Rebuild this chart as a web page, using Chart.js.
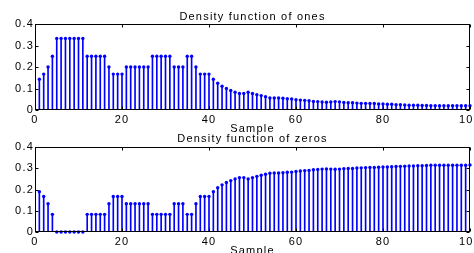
<!DOCTYPE html>
<html>
<head>
<meta charset="utf-8">
<script src="https://cdn.jsdelivr.net/npm/chart.js@4/dist/chart.umd.min.js"></script>
<style>
  html, body { margin: 0; padding: 0; background: #fff; overflow: hidden; width: 474px; height: 253px; }
  canvas { position: absolute; left: 0; }
  #c1 { top: 0; }
  #c2 { top: 126px; }
</style>
</head>
<body>
<canvas id="c1" width="490" height="140"></canvas>
<canvas id="c2" width="490" height="136"></canvas>
<script>
// ---- data ----
const samples = Array.from({ length: 100 }, (_, i) => i + 1);

const onesDensity = [
  0.143, 0.167, 0.2, 0.25,
  0.333, 0.333, 0.333, 0.333, 0.333, 0.333, 0.333,
  0.25, 0.25, 0.25, 0.25, 0.25,
  0.2,
  0.167, 0.167, 0.167,
  0.2, 0.2, 0.2, 0.2, 0.2, 0.2,
  0.25, 0.25, 0.25, 0.25, 0.25,
  0.2, 0.2, 0.2,
  0.25, 0.25,
  0.2,
  0.167, 0.167, 0.167,
  0.143, 0.125, 0.111, 0.1, 0.091, 0.083, 0.077, 0.077, 0.083, 0.077,
  0.071, 0.067, 0.062, 0.056, 0.056, 0.056, 0.055, 0.052, 0.051, 0.048,
  0.046, 0.045, 0.043, 0.040, 0.039, 0.037, 0.036, 0.037, 0.039, 0.038,
  0.035, 0.034, 0.034, 0.032, 0.031, 0.031, 0.030, 0.030, 0.028, 0.028,
  0.027, 0.027, 0.025, 0.025, 0.023, 0.022, 0.022, 0.022, 0.021, 0.021,
  0.020, 0.020, 0.020, 0.020, 0.020, 0.020, 0.020, 0.020, 0.020, 0.020
];

const zerosDensity = [
  0.19, 0.167, 0.133, 0.083,
  0, 0, 0, 0, 0, 0, 0,
  0.083, 0.083, 0.083, 0.083, 0.083,
  0.133,
  0.167, 0.167, 0.167,
  0.133, 0.133, 0.133, 0.133, 0.133, 0.133,
  0.083, 0.083, 0.083, 0.083, 0.083,
  0.133, 0.133, 0.133,
  0.083, 0.083,
  0.133,
  0.167, 0.167, 0.167,
  0.19, 0.208, 0.222, 0.233, 0.242, 0.25, 0.256, 0.256, 0.25, 0.256,
  0.262, 0.267, 0.272, 0.277, 0.278, 0.278, 0.279, 0.281, 0.282, 0.285,
  0.287, 0.289, 0.29, 0.293, 0.294, 0.296, 0.297, 0.296, 0.295, 0.296,
  0.298, 0.299, 0.299, 0.301, 0.302, 0.303, 0.304, 0.304, 0.305, 0.306,
  0.306, 0.307, 0.308, 0.309, 0.31, 0.311, 0.311, 0.312, 0.312, 0.313,
  0.314, 0.314, 0.314, 0.314, 0.314, 0.314, 0.314, 0.314, 0.314, 0.315
];

const xTickValues = [0, 20, 40, 60, 80, 100];
const xTickLabels = ['0', '20', '40', '60', '80', '100'];
const yTickValues = [0, 0.1, 0.2, 0.3, 0.4];
const yTickLabels = ['0', '0.1', '0.2', '0.3', '0.4'];
const titles = ['Density function of ones', 'Density function of zeros'];
const xAxisTitle = 'Sample';

// ---- styling ----
const FONT = { family: '"Liberation Sans", Arial, Helvetica, sans-serif', size: 11, weight: 'normal', lineHeight: 1.2 };
const STEM = '#0000ff';
Chart.defaults.color = '#000';
Chart.defaults.font = FONT;

const matlabBox = {
  id: 'matlabBox',
  beforeDraw(chart) { chart.ctx.letterSpacing = '1.2px'; },
  afterDraw(chart) {
    const { ctx, chartArea: a, scales: { x, y } } = chart;
    const L = Math.round(a.left) + 0.5, R = Math.round(a.right) - 0.5;
    const T = Math.round(a.top) + 0.5, B = Math.round(a.bottom) - 0.5;
    ctx.save();
    ctx.strokeStyle = '#000';
    ctx.lineWidth = 1;
    ctx.strokeRect(L, T, R - L, B - T);
    const len = 3;
    ctx.beginPath();
    xTickValues.forEach(v => {
      const px = Math.round(x.getPixelForValue(v)) + 0.5;
      ctx.moveTo(px, B); ctx.lineTo(px, B - len);
      ctx.moveTo(px, T); ctx.lineTo(px, T + len);
    });
    yTickValues.forEach(v => {
      const py = Math.round(y.getPixelForValue(v)) + 0.5;
      ctx.moveTo(L, py); ctx.lineTo(L + len, py);
      ctx.moveTo(R, py); ctx.lineTo(R - len, py);
    });
    ctx.stroke();
    ctx.restore();
  }
};

function makeStemChart(id, values, title, topHeight, titleTopPad) {
  const pts = samples.map((s, i) => ({ x: s, y: values[i] }));
  return new Chart(document.getElementById(id), {
    type: 'bar',
    data: {
      datasets: [
        {
          type: 'bar',
          data: pts,
          backgroundColor: STEM,
          borderWidth: 0,
          barThickness: 1,
          order: 2
        },
        {
          type: 'scatter',
          data: pts,
          showLine: false,
          pointRadius: 1.7,
          pointHoverRadius: 1.7,
          pointBackgroundColor: STEM,
          pointBorderWidth: 0,
          clip: false,
          order: 1
        }
      ]
    },
    options: {
      responsive: false,
      animation: false,
      events: [],
      layout: { padding: { left: 0, right: 20, top: 0, bottom: 0 } },
      plugins: {
        legend: { display: false },
        tooltip: { enabled: false },
        title: { display: false }
      },
      scales: {
        x: {
          type: 'linear',
          offset: false,
          min: 0, max: 100,
          afterBuildTicks(s) { s.ticks = xTickValues.map(v => ({ value: v })); },
          ticks: {
            padding: 3,
            maxRotation: 0,
            autoSkip: false,
            callback: (v) => xTickLabels[xTickValues.indexOf(v)]
          },
          grid: { display: false, drawTicks: false, offset: false },
          border: { display: false },
          title: { display: true, text: xAxisTitle, color: '#000', font: FONT, padding: { top: 0, bottom: 4 } },
          afterFit(s) { s.height = 30; }
        },
        xTop: {
          type: 'linear',
          position: 'top',
          offset: false,
          min: 0, max: 100,
          ticks: { display: false },
          grid: { display: false, drawTicks: false },
          border: { display: false },
          title: { display: true, text: title, color: '#000', font: FONT, padding: { top: titleTopPad, bottom: 0 } },
          afterFit(s) { s.height = topHeight; }
        },
        y: {
          type: 'linear',
          min: 0, max: 0.4,
          afterBuildTicks(s) { s.ticks = yTickValues.map(v => ({ value: v })); },
          ticks: {
            padding: 1,
            callback: (v) => yTickLabels[yTickValues.indexOf(v)]
          },
          grid: { display: false, drawTicks: false },
          border: { display: false },
          afterFit(s) { s.width = 35; }
        }
      }
    },
    plugins: [matlabBox]
  });
}

makeStemChart('c1', onesDensity, titles[0], 24, 10.4);
makeStemChart('c2', zerosDensity, titles[1], 21, 6.4);
</script>
</body>
</html>
